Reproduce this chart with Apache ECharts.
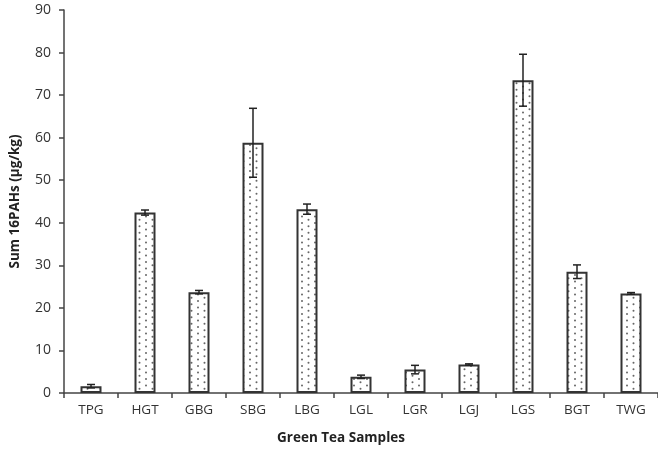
<!DOCTYPE html>
<html><head><meta charset="utf-8">
<script src="https://cdn.jsdelivr.net/npm/echarts@6/dist/echarts.min.js"></script>
<style>html,body{margin:0;padding:0;background:#fff}#c{width:658px;height:450px}</style>
</head><body><div id="c"></div>
<script>
const categories = ['TPG','HGT','GBG','SBG','LBG','LGL','LGR','LGJ','LGS','BGT','TWG'];
const values = [1.6, 42.4, 23.7, 58.8, 43.2, 3.8, 5.5, 6.7, 73.5, 28.5, 23.4];
const errors = [0.4, 0.6, 0.4, 8.1, 1.2, 0.4, 1.0, 0.15, 6.1, 1.6, 0.2];
const yTicks = {min: 0, max: 90, interval: 10};

const pc = document.createElement('canvas');
pc.width = 13; pc.height = 13;
const g = pc.getContext('2d');
g.fillStyle = '#fff'; g.fillRect(0,0,13,13);
g.fillStyle = '#666';
[[3,2],[9.5,5.25],[3,8.5],[9.5,11.75]].forEach(p=>{g.beginPath(); g.arc(p[0],p[1],1,0,Math.PI*2); g.fill();});

const errData = categories.map((c,i)=>[i, values[i]-errors[i], values[i]+errors[i]]);
const font = '"Open Sans", "Liberation Sans", sans-serif';
const chart = echarts.init(document.getElementById('c'), null, {renderer:'canvas'});
chart.setOption({
  animation:false,
  grid:{left:62, right:-5, top:10, bottom:57},
  xAxis:{type:'category', data:categories,
    axisLine:{lineStyle:{color:'#444', width:1.5}},
    axisTick:{show:true, length:5, lineStyle:{color:'#444', width:1.5}},
    axisLabel:{color:'#333', fontSize:13.5, fontFamily:font, margin:10},
    name:'Green Tea Samples', nameLocation:'middle', nameGap:38,
    nameTextStyle:{fontWeight:'bold', fontSize:13.5, color:'#222', fontFamily:font, padding:[0,40,0,0]}
  },
  yAxis:{type:'value', min:yTicks.min, max:yTicks.max, interval:yTicks.interval,
    splitLine:{show:false},
    axisLine:{show:true, lineStyle:{color:'#444', width:1.5}},
    axisTick:{show:true, length:5, lineStyle:{color:'#444', width:1.5}},
    axisLabel:{color:'#333', fontSize:14, fontFamily:font, margin:13},
    name:'Sum 16PAHs (µg/kg)', nameLocation:'middle', nameGap:42,
    nameTextStyle:{fontWeight:'bold', fontSize:13.5, color:'#222', fontFamily:font}
  },
  series:[
    {type:'bar', data:values, barWidth:21,
      itemStyle:{color:{image:pc, repeat:'repeat'}, borderColor:'#333', borderWidth:2}},
    {type:'custom', data:errData, z:5,
      renderItem:function(params, api){
        const x = api.value(0);
        const lo = api.coord([x, api.value(1)]);
        const hi = api.coord([x, api.value(2)]);
        const w = 4;
        const st = {stroke:'#222', lineWidth:1.5};
        return {type:'group', children:[
          {type:'line', shape:{x1:lo[0], y1:lo[1], x2:hi[0], y2:hi[1]}, style:st},
          {type:'line', shape:{x1:lo[0]-w, y1:lo[1], x2:lo[0]+w, y2:lo[1]}, style:st},
          {type:'line', shape:{x1:hi[0]-w, y1:hi[1], x2:hi[0]+w, y2:hi[1]}, style:st}
        ]};
      }
    }
  ]
});
</script></body></html>
